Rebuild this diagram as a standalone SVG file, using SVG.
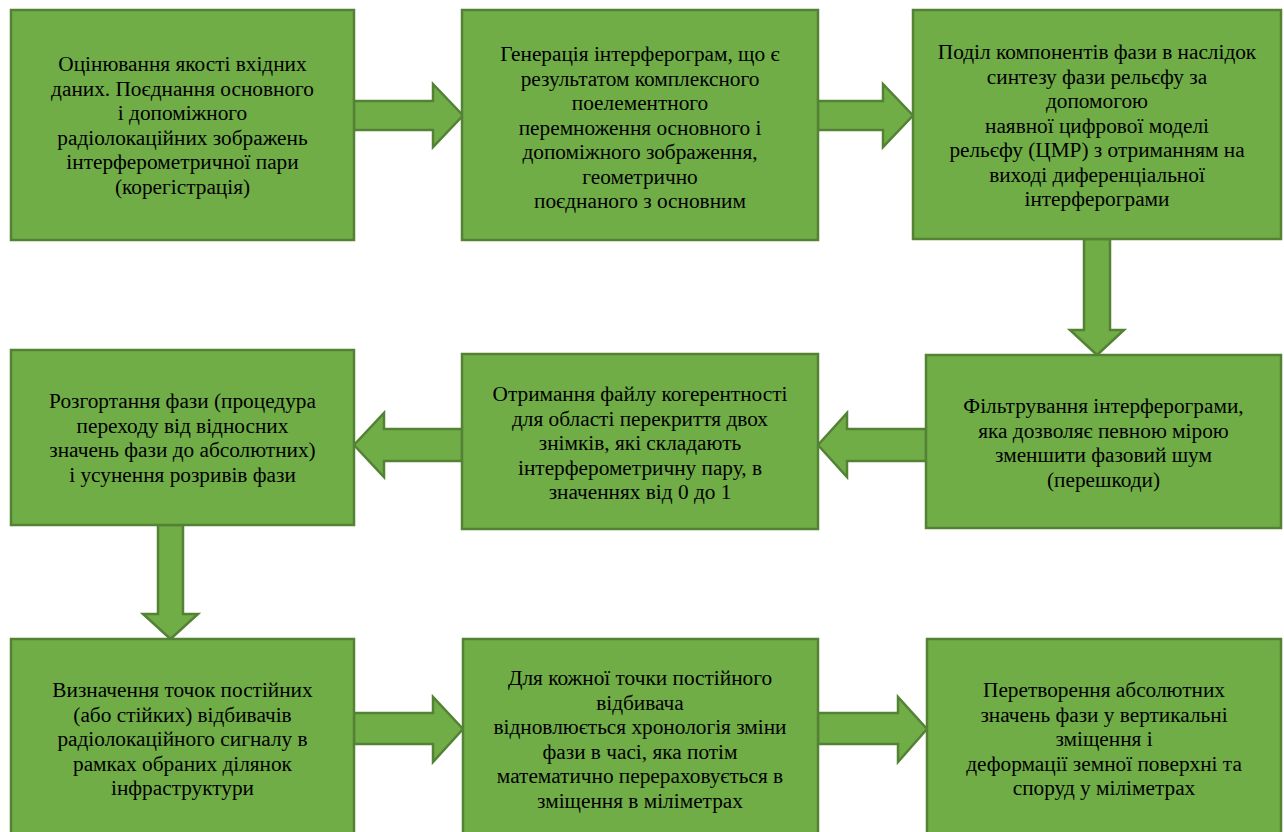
<svg xmlns="http://www.w3.org/2000/svg" width="1284" height="832" viewBox="0 0 1284 832">
<style>
.box{fill:#70AD47;stroke:#548235;stroke-width:2.5}
.arr{fill:#70AD47;stroke:#548235;stroke-width:2.5;stroke-linejoin:miter}
</style>
<rect width="1284" height="832" fill="#fff"/>
<g id="connectors">
<polygon class="arr" points="354,101 433,101 433,84 463,115.5 433,147 433,130 354,130"/>
<polygon class="arr" points="818,101 883,101 883,84 913,115.5 883,147 883,130 818,130"/>
<polygon class="arr" points="1084,239 1110,239 1110,330 1124,330 1097,355 1070,330 1084,330"/>
<polygon class="arr" points="926,429 847,429 847,413 818,445 847,477 847,461 926,461"/>
<polygon class="arr" points="462,429 384,429 384,413 354,445 384,477 384,461 462,461"/>
<polygon class="arr" points="158,525 183,525 183,614 198,614 170.5,639 143,614 158,614"/>
<polygon class="arr" points="354,713 433,713 433,697 463,729 433,762 433,744 354,744"/>
<polygon class="arr" points="818,713 898,713 898,697 927,729 898,762 898,744 818,744"/>
</g>
<g id="node1">
<rect class="box" x="11" y="10" width="343" height="230"/>
<text font-family="Times New Roman" font-size="21.3" x="182.5" y="71" text-anchor="middle">Оцінювання якості вхідних</text>
<text font-family="Times New Roman" font-size="21.3" x="182.5" y="95.5" text-anchor="middle">даних. Поєднання основного</text>
<text font-family="Times New Roman" font-size="21.3" x="182.5" y="120" text-anchor="middle">і допоміжного</text>
<text font-family="Times New Roman" font-size="21.3" x="182.5" y="144.5" text-anchor="middle">радіолокаційних зображень</text>
<text font-family="Times New Roman" font-size="21.3" x="182.5" y="169" text-anchor="middle">інтерферометричної пари</text>
<text font-family="Times New Roman" font-size="21.3" x="182.5" y="193.5" text-anchor="middle">(корегістрація)</text>
</g>
<g id="node2">
<rect class="box" x="462" y="10" width="356" height="230"/>
<text font-family="Times New Roman" font-size="21.3" x="640" y="61" text-anchor="middle">Генерація інтерферограм, що є</text>
<text font-family="Times New Roman" font-size="21.3" x="640" y="85.5" text-anchor="middle">результатом комплексного</text>
<text font-family="Times New Roman" font-size="21.3" x="640" y="110" text-anchor="middle">поелементного</text>
<text font-family="Times New Roman" font-size="21.3" x="640" y="134.5" text-anchor="middle">перемноження основного і</text>
<text font-family="Times New Roman" font-size="21.3" x="640" y="159" text-anchor="middle">допоміжного зображення,</text>
<text font-family="Times New Roman" font-size="21.3" x="640" y="183.5" text-anchor="middle">геометрично</text>
<text font-family="Times New Roman" font-size="21.3" x="640" y="208" text-anchor="middle">поєднаного з основним</text>
</g>
<g id="node3">
<rect class="box" x="913" y="10" width="368" height="229"/>
<text font-family="Times New Roman" font-size="21.3" x="1097" y="59" text-anchor="middle">Поділ компонентів фази в наслідок</text>
<text font-family="Times New Roman" font-size="21.3" x="1097" y="83.5" text-anchor="middle">синтезу фази рельєфу за</text>
<text font-family="Times New Roman" font-size="21.3" x="1097" y="108" text-anchor="middle">допомогою</text>
<text font-family="Times New Roman" font-size="21.3" x="1097" y="132.5" text-anchor="middle">наявної цифрової моделі</text>
<text font-family="Times New Roman" font-size="21.3" x="1097" y="157" text-anchor="middle">рельєфу (ЦМР) з отриманням на</text>
<text font-family="Times New Roman" font-size="21.3" x="1097" y="181.5" text-anchor="middle">виході диференціальної</text>
<text font-family="Times New Roman" font-size="21.3" x="1097" y="206" text-anchor="middle">інтерферограми</text>
</g>
<g id="node4">
<rect class="box" x="11" y="350" width="343" height="175"/>
<text font-family="Times New Roman" font-size="21.3" x="182.5" y="408" text-anchor="middle">Розгортання фази (процедура</text>
<text font-family="Times New Roman" font-size="21.3" x="182.5" y="432.5" text-anchor="middle">переходу від відносних</text>
<text font-family="Times New Roman" font-size="21.3" x="182.5" y="457" text-anchor="middle">значень фази до абсолютних)</text>
<text font-family="Times New Roman" font-size="21.3" x="182.5" y="481.5" text-anchor="middle">і усунення розривів фази</text>
</g>
<g id="node5">
<rect class="box" x="462" y="354" width="356" height="175"/>
<text font-family="Times New Roman" font-size="21.3" x="640" y="401" text-anchor="middle">Отримання файлу когерентності</text>
<text font-family="Times New Roman" font-size="21.3" x="640" y="425.5" text-anchor="middle">для області перекриття двох</text>
<text font-family="Times New Roman" font-size="21.3" x="640" y="450" text-anchor="middle">знімків, які складають</text>
<text font-family="Times New Roman" font-size="21.3" x="640" y="474.5" text-anchor="middle">інтерферометричну пару, в</text>
<text font-family="Times New Roman" font-size="21.3" x="640" y="499" text-anchor="middle">значеннях від 0 до 1</text>
</g>
<g id="node6">
<rect class="box" x="926" y="355" width="355" height="173"/>
<text font-family="Times New Roman" font-size="21.3" x="1103.5" y="413" text-anchor="middle">Фільтрування інтерферограми,</text>
<text font-family="Times New Roman" font-size="21.3" x="1103.5" y="437.5" text-anchor="middle">яка дозволяє певною мірою</text>
<text font-family="Times New Roman" font-size="21.3" x="1103.5" y="462" text-anchor="middle">зменшити фазовий шум</text>
<text font-family="Times New Roman" font-size="21.3" x="1103.5" y="486.5" text-anchor="middle">(перешкоди)</text>
</g>
<g id="node7">
<rect class="box" x="11" y="639" width="343" height="200"/>
<text font-family="Times New Roman" font-size="21.3" x="182.5" y="697" text-anchor="middle">Визначення точок постійних</text>
<text font-family="Times New Roman" font-size="21.3" x="182.5" y="721.5" text-anchor="middle">(або стійких) відбивачів</text>
<text font-family="Times New Roman" font-size="21.3" x="182.5" y="746" text-anchor="middle">радіолокаційного сигналу в</text>
<text font-family="Times New Roman" font-size="21.3" x="182.5" y="770.5" text-anchor="middle">рамках обраних ділянок</text>
<text font-family="Times New Roman" font-size="21.3" x="182.5" y="795" text-anchor="middle">інфраструктури</text>
</g>
<g id="node8">
<rect class="box" x="463" y="639" width="355" height="200"/>
<text font-family="Times New Roman" font-size="21.3" x="640" y="685" text-anchor="middle">Для кожної точки постійного</text>
<text font-family="Times New Roman" font-size="21.3" x="640" y="709.5" text-anchor="middle">відбивача</text>
<text font-family="Times New Roman" font-size="21.3" x="640" y="734" text-anchor="middle">відновлюється хронологія зміни</text>
<text font-family="Times New Roman" font-size="21.3" x="640" y="758.5" text-anchor="middle">фази в часі, яка потім</text>
<text font-family="Times New Roman" font-size="21.3" x="640" y="783" text-anchor="middle">математично перераховується в</text>
<text font-family="Times New Roman" font-size="21.3" x="640" y="807.5" text-anchor="middle">зміщення в міліметрах</text>
</g>
<g id="node9">
<rect class="box" x="927" y="639" width="354" height="200"/>
<text font-family="Times New Roman" font-size="21.3" x="1104" y="697" text-anchor="middle">Перетворення абсолютних</text>
<text font-family="Times New Roman" font-size="21.3" x="1104" y="721.5" text-anchor="middle">значень фази у вертикальні</text>
<text font-family="Times New Roman" font-size="21.3" x="1104" y="746" text-anchor="middle">зміщення і</text>
<text font-family="Times New Roman" font-size="21.3" x="1104" y="770.5" text-anchor="middle">деформації земної поверхні та</text>
<text font-family="Times New Roman" font-size="21.3" x="1104" y="795" text-anchor="middle">споруд у міліметрах</text>
</g>
</svg>
